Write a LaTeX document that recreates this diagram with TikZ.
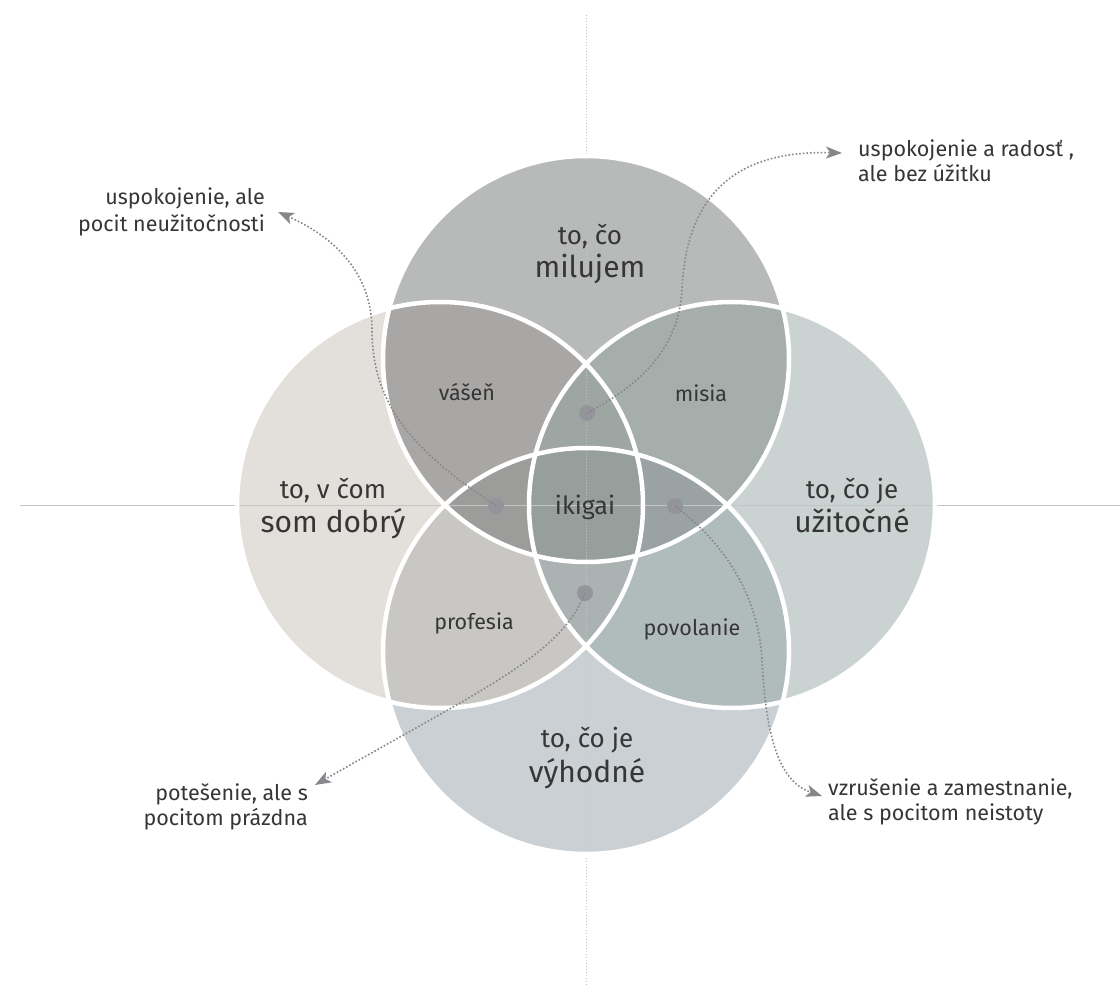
\documentclass[tikz,border=0pt]{standalone}
\usepackage{fontspec}
\setmainfont{Fira Sans}
\usetikzlibrary{arrows.meta}
\definecolor{cT}{HTML}{B8BABA}
\definecolor{cL}{HTML}{E3E0DC}
\definecolor{cR}{HTML}{CBD3D2}
\definecolor{cB}{HTML}{CAD0D3}
\definecolor{cTL}{HTML}{A9A7A5}
\definecolor{cTR}{HTML}{A6AEAC}
\definecolor{cLB}{HTML}{C8C7C3}
\definecolor{cRB}{HTML}{B0BBBB}
\definecolor{cTLR}{HTML}{9EA6A4}
\definecolor{cTLB}{HTML}{9C9D9B}
\definecolor{cTRB}{HTML}{9AA2A3}
\definecolor{cLRB}{HTML}{AAB3B2}
\definecolor{cAll}{HTML}{979F9D}
\definecolor{txt}{HTML}{363636}
\definecolor{arr}{HTML}{86878B}
\definecolor{dotc}{HTML}{94959B}
\definecolor{guide}{HTML}{C4C4C4}
\begin{document}
\begin{tikzpicture}[x=1pt,y=-1pt,
  every node/.style={text=txt, inner sep=0pt},
  big1/.style={font=\fontsize{26}{30}\selectfont, anchor=base},
  big2/.style={font=\fontsize{30}{34}\selectfont, anchor=base},
  region/.style={font=\fontsize{21.5}{25}\selectfont, anchor=base},
  note/.style={font=\fontsize{21.5}{25}\selectfont},
  ring/.style={draw=white, line width=4.5pt},
  spot/.style={fill=dotc},
  link/.style={draw=arr, line width=1.6pt, dotted, -{Stealth[length=16pt,width=12pt,inset=4pt]}}]
\useasboundingbox (0,0) rectangle (1120,992);
\fill[white] (0,0) rectangle (1120,992);
\def\rr{203pt}
\coordinate (T) at (586,359);
\coordinate (L) at (440,505);
\coordinate (R) at (732,505);
\coordinate (B) at (586,651);
% single circles
\fill[cT] (T) circle (\rr);
\fill[cL] (L) circle (\rr);
\fill[cR] (R) circle (\rr);
\fill[cB] (B) circle (\rr);
% pairs
\begin{scope}\clip (T) circle (\rr); \fill[cTL] (L) circle (\rr);\end{scope}
\begin{scope}\clip (T) circle (\rr); \fill[cTR] (R) circle (\rr);\end{scope}
\begin{scope}\clip (L) circle (\rr); \fill[cLB] (B) circle (\rr);\end{scope}
\begin{scope}\clip (R) circle (\rr); \fill[cRB] (B) circle (\rr);\end{scope}
% triples
\begin{scope}\clip (T) circle (\rr); \clip (L) circle (\rr); \fill[cTLR] (R) circle (\rr);\end{scope}
\begin{scope}\clip (T) circle (\rr); \clip (L) circle (\rr); \fill[cTLB] (B) circle (\rr);\end{scope}
\begin{scope}\clip (T) circle (\rr); \clip (R) circle (\rr); \fill[cTRB] (B) circle (\rr);\end{scope}
\begin{scope}\clip (L) circle (\rr); \clip (R) circle (\rr); \fill[cLRB] (B) circle (\rr);\end{scope}
% all four
\begin{scope}\clip (T) circle (\rr); \clip (L) circle (\rr); \clip (R) circle (\rr); \fill[cAll] (B) circle (\rr);\end{scope}
% guides
\coordinate (hl) at (20,505);
\coordinate (hr) at (1120,505);
\coordinate (vt) at (586,15);
\coordinate (vb) at (586,985);
\draw[guide, line width=0.8pt] (hl) -- (hr);
\draw[guide, line width=1pt, dotted] (vt) -- (vb);
% white rings
\draw[ring] (T) circle (\rr);
\draw[ring] (L) circle (\rr);
\draw[ring] (R) circle (\rr);
\draw[ring] (B) circle (\rr);
% dots
\fill[spot] (587,413) circle (8pt) coordinate (dT);
\fill[spot] (496,506) circle (8pt) coordinate (dL);
\fill[spot] (675,506) circle (8pt) coordinate (dR);
\fill[spot] (585,593) circle (8pt) coordinate (dB);
% arrow tips
\coordinate (aL) at (278,212);
\coordinate (aT) at (842,153);
\coordinate (aR) at (822,796);
\coordinate (aB) at (315,785);
\draw[link] (dL) .. controls (420,455) and (372,410) .. (372,330) .. controls (372,270) and (330,235) .. (aL);
\draw[link] (dT) .. controls (640,385) and (678,350) .. (682,290) .. controls (686,200) and (730,150) .. (aT);
\draw[link] (dR) .. controls (720,540) and (758,590) .. (762,660) .. controls (766,740) and (780,782) .. (aR);
\draw[link] (dB) .. controls (560,655) and (490,685) .. (aB);
% big labels
\node[big1] (t1) at (590,245) {to, čo};
\node[big2] (t2) at (590,278) {milujem};
\node[big1] (l1) at (333,498) {to, v čom};
\node[big2] (l2) at (333,532) {som dobrý};
\node[big1] (r1) at (852,498) {to, čo je};
\node[big2] (r2) at (852,532) {užitočné};
\node[big1] (b1) at (587,747) {to, čo je};
\node[big2] (b2) at (587,782) {výhodné};
% region labels
\node[region] (vas) at (467,401) {vášeň};
\node[region] (mis) at (701,402) {misia};
\node[region] (pro) at (474,629) {profesia};
\node[region] (pov) at (692,635) {povolanie};
\node[region, font=\fontsize{25}{29}\selectfont] (iki) at (585,514) {ikigai};
% notes (base = baseline of last line)
\node[note, anchor=base east, align=right] (n1) at (265,232) {uspokojenie, ale\\[2pt]pocit neužitočnosti};
\node[note, anchor=base west, align=left] (n2) at (858,182) {uspokojenie a radosť ,\\[0pt]ale bez úžitku};
\node[note, anchor=base east, align=right] (n3) at (308,825) {potešenie, ale s\\[0pt]pocitom prázdna};
\node[note, anchor=base west, align=left] (n4) at (828,820) {vzrušenie a zamestnanie,\\[0pt]ale s pocitom neistoty};
\end{tikzpicture}
\end{document}
